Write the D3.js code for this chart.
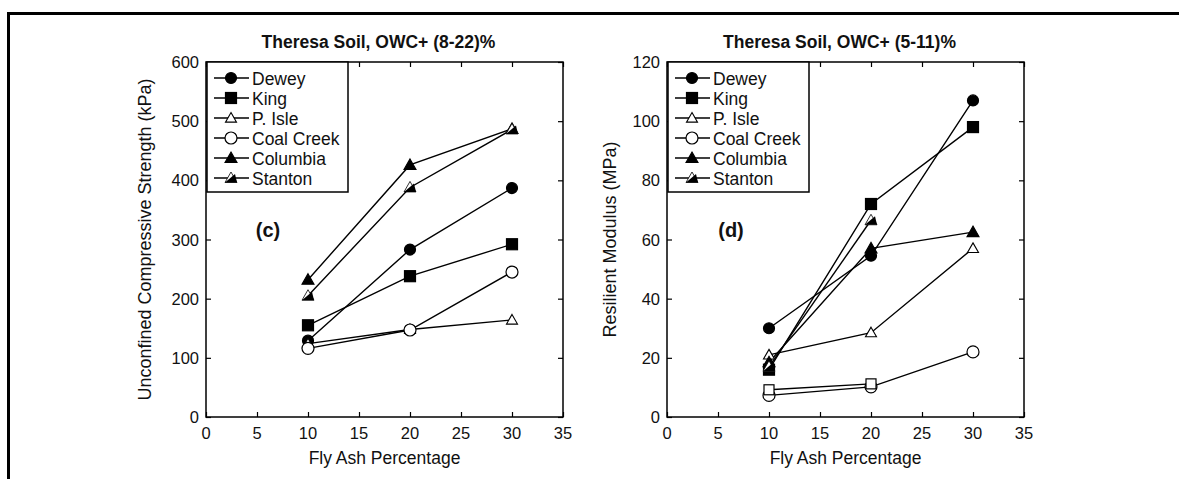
<!DOCTYPE html>
<html>
<head>
<meta charset="utf-8">
<script src="https://cdn.jsdelivr.net/npm/d3@7"></script>
<style>
  body { margin: 0; background: #fff; }
  text { font-family: "Liberation Sans", Arial, Helvetica, sans-serif; fill: #111; }
</style>
</head>
<body>
<div id="chart"></div>
<script>
// fly ash % on x for both panels
const ashPct = [10, 20, 30];
const xTicks = [0, 5, 10, 15, 20, 25, 30, 35];

// legend order / marker type per soil-ash combo
const seriesNames = ["Dewey", "King", "P. Isle", "Coal Creek", "Columbia", "Stanton"];
const markers = ["circleFill", "squareFill", "triOpen", "circleOpen", "triFill", "triHalf"];

// panel (c) UCS in kPa
const ucsDewey = [129, 283, 387];
const ucsKing = [155, 238, 292];
const ucsPIsle = [124, 148, 164];
const ucsCoal = [116, 147, 245];
const ucsColumbia = [232, 426, 487];
const ucsStanton = [205, 388, 486];
const ucsTicks = [0, 100, 200, 300, 400, 500, 600];

// panel (d) resilient modulus in MPa
const mrDewey = [30, 54.5, 107];
const mrKing = [16, 72, 98];
const mrPIsle = [21, 28.5, 57];
const mrCoal = [7.3, 10.2, 22];
const mrColumbia = [18.5, 57, 62.5];
const mrStanton = [17, 66.5, null];
const mrOpenSq = [9.2, 11.2, null]; // open squares in (d), not in legend
const mrTicks = [0, 20, 40, 60, 80, 100, 120];

const W = 1179, H = 479;
const svg = d3.select("#chart").append("svg").attr("width", W).attr("height", H);

// outer frame of the figure (runs off right/bottom)
svg.append("rect").attr("x", 8.5).attr("y", 13.5).attr("width", W + 20).attr("height", H + 20)
  .attr("fill", "none").attr("stroke", "#000").attr("stroke-width", 3);

function drawMarker(g, type, cx, cy) {
  const s = g.append("g").attr("transform", `translate(${cx},${cy})`);
  if (type === "circleFill" || type === "circleOpen") {
    s.append("circle").attr("r", type === "circleFill" ? 5.5 : 6)
      .attr("fill", type === "circleFill" ? "#000" : "#fff")
      .attr("stroke", "#000").attr("stroke-width", 1.2);
  } else if (type === "squareFill" || type === "squareOpen") {
    const a = type === "squareFill" ? 11 : 10;
    s.append("rect").attr("x", -a / 2).attr("y", -a / 2).attr("width", a).attr("height", a)
      .attr("fill", type === "squareFill" ? "#000" : "#fff")
      .attr("stroke", "#000").attr("stroke-width", 1.2);
  } else if (type === "triOpen" || type === "triFill") {
    const tw = type === "triFill" ? 6 : 5.5;
    s.append("path").attr("d", `M0,${-tw} L${tw},${tw * 0.75} L${-tw},${tw * 0.75}Z`)
      .attr("fill", type === "triFill" ? "#000" : "#fff")
      .attr("stroke", "#000").attr("stroke-width", 1.1);
  } else if (type === "triHalf") {
    // stanton: half-filled triangle
    s.append("path").attr("d", "M0,-6 L6,4.5 L-6,4.5Z")
      .attr("fill", "#fff").attr("stroke", "#000").attr("stroke-width", 0.8);
    s.append("path").attr("d", "M4,-4 L6,4.5 L-6,4.5Z").attr("fill", "#000");
  }
}

function panel(opt) {
  const { left, top, w, h } = opt;
  const g = svg.append("g").attr("transform", `translate(${left},${top})`);
  const x = d3.scaleLinear().domain([0, 35]).range([0, w]);
  const y = d3.scaleLinear().domain([0, opt.yMax]).range([h, 0]);

  // inward ticks on all four sides
  g.append("g").attr("transform", `translate(0,${h})`)
    .call(d3.axisTop(x).tickValues(xTicks).tickSize(5).tickFormat(""));
  g.append("g").call(d3.axisBottom(x).tickValues(xTicks).tickSize(5).tickFormat(""));
  g.append("g").call(d3.axisRight(y).tickValues(opt.yTicks).tickSize(5).tickFormat(""));
  g.append("g").attr("transform", `translate(${w},0)`)
    .call(d3.axisLeft(y).tickValues(opt.yTicks).tickSize(5).tickFormat(""));
  g.selectAll(".domain").remove();
  g.selectAll(".tick line").attr("stroke", "#000").attr("stroke-width", 1.2);

  g.append("rect").attr("width", w).attr("height", h)
    .attr("fill", "none").attr("stroke", "#000").attr("stroke-width", 1.5);

  // tick labels
  g.selectAll(".xl").data(xTicks).join("text")
    .attr("x", d => x(d)).attr("y", h + 22).attr("text-anchor", "middle")
    .attr("font-size", 16.5).text(d => d);
  g.selectAll(".yl").data(opt.yTicks).join("text")
    .attr("x", -7).attr("y", d => y(d) + 6).attr("text-anchor", "end")
    .attr("font-size", 16.5).text(d => d);

  g.append("text").attr("x", w / 2 - 6).attr("y", -14).attr("text-anchor", "middle")
    .attr("font-size", 17.5).attr("font-weight", "bold").text(opt.title);
  g.append("text").attr("x", w / 2).attr("y", h + 47).attr("text-anchor", "middle")
    .attr("font-size", 17.5).text("Fly Ash Percentage");
  g.append("text").attr("transform", `translate(${opt.yLabX},${h / 2}) rotate(-90)`)
    .attr("text-anchor", "middle").attr("font-size", 18).text(opt.yLabel);
  g.append("text").attr("x", opt.tagX).attr("y", 175).attr("text-anchor", "middle")
    .attr("font-size", 20).attr("font-weight", "bold").text(opt.tag);

  const line = d3.line().defined(d => d[1] != null).x(d => x(d[0])).y(d => y(d[1]));
  opt.series.forEach(s => {
    const pts = ashPct.map((a, i) => [a, s.vals[i]]);
    g.append("path").attr("d", line(pts)).attr("fill", "none")
      .attr("stroke", "#000").attr("stroke-width", 1.4);
  });
  // markers after lines so they sit on top
  opt.series.forEach(s => {
    ashPct.forEach((a, i) => {
      if (s.vals[i] != null) drawMarker(g, s.marker, x(a), y(s.vals[i]));
    });
  });

  // legend box top-left
  const lg = g.append("g");
  lg.append("rect").attr("x", 1).attr("y", 0).attr("width", 141).attr("height", 130)
    .attr("fill", "#fff").attr("stroke", "#000").attr("stroke-width", 1.5);
  seriesNames.forEach((n, i) => {
    const ry = 16 + i * 20;
    lg.append("line").attr("x1", 8).attr("x2", 43).attr("y1", ry).attr("y2", ry)
      .attr("stroke", "#000").attr("stroke-width", 1.4);
    drawMarker(lg, markers[i], 25, ry);
    lg.append("text").attr("x", 46).attr("y", ry + 6.5).attr("font-size", 17.5).text(n);
  });
}

panel({
  left: 206, top: 62, w: 357, h: 355, yMax: 600, yTicks: ucsTicks,
  title: "Theresa Soil, OWC+ (8-22)%",
  yLabel: "Unconfined Compressive Strength (kPa)", yLabX: -55,
  tag: "(c)", tagX: 62,
  series: [ucsDewey, ucsKing, ucsPIsle, ucsCoal, ucsColumbia, ucsStanton]
    .map((v, i) => ({ vals: v, marker: markers[i] }))
});

panel({
  left: 667, top: 62, w: 357, h: 355, yMax: 120, yTicks: mrTicks,
  title: "Theresa Soil, OWC+ (5-11)%",
  yLabel: "Resilient Modulus (MPa)", yLabX: -51,
  tag: "(d)", tagX: 64,
  series: [mrDewey, mrKing, mrPIsle, mrCoal, mrColumbia, mrStanton]
    .map((v, i) => ({ vals: v, marker: markers[i] }))
    .concat([{ vals: mrOpenSq, marker: "squareOpen" }])
});
</script>
</body>
</html>
